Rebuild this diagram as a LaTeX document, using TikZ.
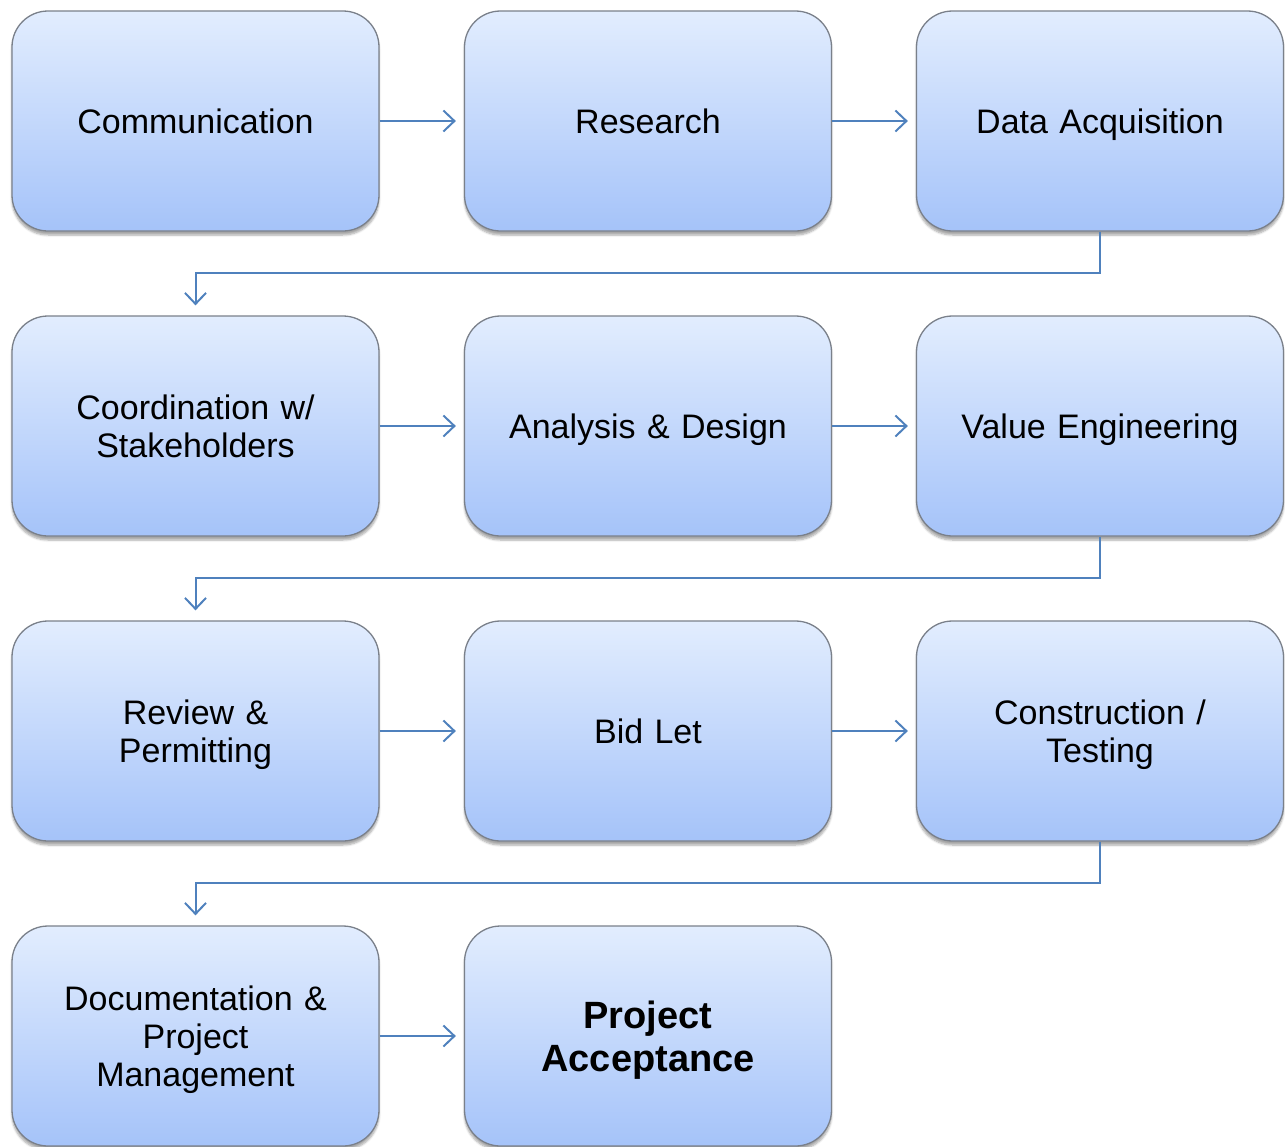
\documentclass[tikz,border=0pt]{standalone}
\usepackage{fontspec}
\setmainfont{Liberation Sans}
\usetikzlibrary{arrows.meta,shadows.blur}
\definecolor{topc}{HTML}{E2EDFE}
\definecolor{botc}{HTML}{A5C3F9}
\definecolor{edgec}{HTML}{7A808A}
\definecolor{arrc}{HTML}{4F81BD}
\newcommand\nodepth[1]{\raisebox{0pt}[\height][0pt]{#1}}
\tikzset{
  procbox/.style={rectangle, rounded corners=36pt, draw=edgec, line width=1.3pt,
    top color=topc, bottom color=botc,
    minimum width=367pt, minimum height=220pt, inner sep=4pt,
    align=center, text width=350pt,
    font=\fontsize{34}{38}\selectfont,
    blur shadow={shadow xshift=0pt, shadow yshift=-4pt, shadow blur steps=6, shadow opacity=35}},
  arr/.style={draw=arrc, line width=2pt, -{Straight Barb[length=11pt,width=21pt,line width=2pt]}},
}
\begin{document}
\begin{tikzpicture}[x=1pt,y=-1pt]
\useasboundingbox (0,0) rectangle (1285,1146);
\node[procbox] (a) at (195.5,121) {Communication};
\node[procbox] (b) at (648,121) {Research};
\node[procbox] (c) at (1100,121) {\nodepth{Data Acquisition}};
\node[procbox] (d) at (195.5,426) {Coordination w/\\Stakeholders};
\node[procbox] (e) at (648,426) {\nodepth{Analysis \& Design}};
\node[procbox] (f) at (1100,426) {\nodepth{Value Engineering}};
\node[procbox] (g) at (195.5,731) {Review \&\\\nodepth{Permitting}};
\node[procbox] (h) at (648,731) {Bid Let};
\node[procbox] (i) at (1100,731) {Construction /\\\nodepth{Testing}};
\node[procbox] (j) at (195.5,1036) {Documentation \&\\Project\\\nodepth{Management}};
\node[procbox, font=\bfseries\fontsize{38}{43}\selectfont] (k) at (648,1036) {Project\\\nodepth{Acceptance}};
\foreach \s/\t in {a/b,b/c,d/e,e/f,g/h,h/i,j/k}
  \draw[arr, shorten >=8pt] (\s.east) -- (\t.west);
\draw[arr, shorten >=10pt] (c.south) -- ++(0,41) -| (d.north);
\draw[arr, shorten >=10pt] (f.south) -- ++(0,41) -| (g.north);
\draw[arr, shorten >=10pt] (i.south) -- ++(0,41) -| (j.north);
\end{tikzpicture}
\end{document}
